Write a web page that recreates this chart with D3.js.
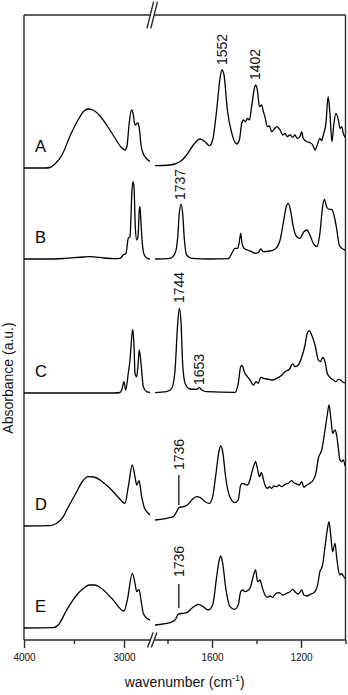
<!DOCTYPE html>
<html>
<head>
<meta charset="utf-8">
<script src="https://cdn.jsdelivr.net/npm/d3@7"></script>
<style>
  body { margin: 0; background: #fff; }
  svg { display: block; font-family: Arial, "Liberation Sans", sans-serif; }
</style>
</head>
<body>
<div id="container"></div>
<script>
/* CONSTANTS AND GLOBALS */
const width = 348,
  height = 695,
  margin = { top: 15, bottom: 55, left: 24, right: 2.5 };

// the wavenumber axis is broken between these two pieces
const leftDomain = [4000, 2730];
const rightDomain = [1860, 1000];

/* DATA */
// [wavenumber (cm-1), absorbance (a.u.)]
const specA = [
  [4000, 0], [3790, 0], [3740, 0.005], [3690, 0.04], [3620, 0.13], [3540, 0.32], [3460, 0.48],
  [3400, 0.57], [3360, 0.59], [3310, 0.58], [3240, 0.52], [3160, 0.41], [3090, 0.30], [3030, 0.21],
  [2990, 0.18], [2970, 0.22], [2950, 0.43], [2925, 0.58], [2910, 0.55], [2890, 0.43], [2875, 0.44],
  [2860, 0.45], [2845, 0.38], [2830, 0.23], [2810, 0.15], [2780, 0.10], [2740, 0.065],
  [1856, 0.023], [1789, 0.03], [1744, 0.063], [1714, 0.13], [1684, 0.23], [1654, 0.29], [1631, 0.263],
  [1612, 0.223], [1597, 0.28], [1579, 0.58], [1564, 0.897], [1555, 0.98], [1546, 0.93], [1531, 0.58],
  [1511, 0.347], [1489, 0.24], [1477, 0.28], [1467, 0.44], [1459, 0.48], [1449, 0.463], [1441, 0.497],
  [1432, 0.48], [1422, 0.613], [1411, 0.78], [1404, 0.83], [1395, 0.763], [1387, 0.613], [1377, 0.63],
  [1369, 0.563], [1362, 0.513], [1351, 0.413], [1342, 0.42], [1332, 0.363], [1321, 0.387], [1309, 0.413],
  [1294, 0.38], [1282, 0.33], [1272, 0.347], [1262, 0.313], [1249, 0.33], [1237, 0.307], [1227, 0.33],
  [1217, 0.297], [1205, 0.313], [1197, 0.363], [1190, 0.297], [1174, 0.263], [1160, 0.253], [1147, 0.23],
  [1137, 0.18], [1127, 0.23], [1115, 0.297], [1107, 0.273], [1100, 0.33], [1088, 0.447], [1078, 0.713],
  [1070, 0.547], [1061, 0.263], [1052, 0.447], [1043, 0.547], [1032, 0.48], [1025, 0.397], [1017, 0.413],
  [1010, 0.347], [1002, 0.307]
];

const specB = [
  [4000, 0], [3800, 0], [3600, 0.005], [3400, 0.02], [3340, 0.023], [3200, 0.01], [3100, 0.003],
  [3040, 0.007], [3007, 0.04], [2980, 0.057], [2957, 0.207], [2940, 0.223], [2920, 0.69], [2910, 0.773],
  [2900, 0.723], [2887, 0.323], [2873, 0.19], [2860, 0.223], [2847, 0.49], [2840, 0.523], [2830, 0.357],
  [2817, 0.157], [2797, 0.04], [2767, 0.007], [2740, 0],
  [1856, 0], [1789, 0.007], [1766, 0.057], [1754, 0.223], [1747, 0.457], [1739, 0.547], [1732, 0.457],
  [1724, 0.19], [1714, 0.04], [1691, 0.007], [1609, 0], [1527, 0.003], [1511, 0.057], [1497, 0.107],
  [1485, 0.107], [1477, 0.173], [1471, 0.257], [1465, 0.157], [1456, 0.107], [1441, 0.09], [1422, 0.073],
  [1407, 0.057], [1392, 0.063], [1381, 0.10], [1369, 0.073], [1339, 0.08], [1317, 0.097], [1294, 0.19],
  [1280, 0.357], [1264, 0.54], [1257, 0.557], [1246, 0.473], [1235, 0.323], [1219, 0.223], [1205, 0.207],
  [1187, 0.273], [1174, 0.29], [1160, 0.24], [1145, 0.157], [1129, 0.123], [1115, 0.257], [1103, 0.523],
  [1095, 0.597], [1085, 0.523], [1073, 0.497], [1062, 0.497], [1052, 0.44], [1040, 0.307], [1028, 0.14],
  [1017, 0.107], [1002, 0.09]
];

const specC = [
  [4000, 0], [3700, 0], [3400, 0], [3100, 0], [3040, 0.005], [3023, 0.03], [3000, 0.113], [2983, 0.03],
  [2957, 0.20], [2940, 0.33], [2925, 0.53], [2913, 0.637], [2900, 0.48], [2890, 0.197], [2873, 0.163],
  [2860, 0.28], [2847, 0.43], [2830, 0.297], [2807, 0.063], [2773, 0.013], [2740, 0.005],
  [1856, 0.003], [1804, 0.013], [1781, 0.047], [1766, 0.23], [1756, 0.63], [1747, 0.847], [1739, 0.697],
  [1732, 0.297], [1721, 0.097], [1699, 0.04], [1669, 0.037], [1657, 0.053], [1646, 0.03], [1624, 0.013],
  [1497, 0.007], [1482, 0.097], [1471, 0.263], [1464, 0.273], [1455, 0.213], [1441, 0.163], [1429, 0.13],
  [1414, 0.08], [1402, 0.113], [1392, 0.097], [1381, 0.157], [1369, 0.147], [1351, 0.14], [1332, 0.13],
  [1309, 0.147], [1291, 0.17], [1272, 0.213], [1253, 0.237], [1237, 0.29], [1227, 0.263], [1212, 0.28],
  [1197, 0.357], [1182, 0.48], [1172, 0.597], [1163, 0.623], [1152, 0.58], [1137, 0.48], [1122, 0.33],
  [1112, 0.313], [1103, 0.357], [1092, 0.313], [1082, 0.197], [1070, 0.157], [1055, 0.13], [1043, 0.113],
  [1032, 0.137], [1022, 0.13], [1010, 0.107], [1000, 0.103]
];

const specD = [
  [4000, 0], [3740, 0.003], [3673, 0.027], [3607, 0.093], [3573, 0.16], [3473, 0.343], [3420, 0.44],
  [3357, 0.493], [3300, 0.49], [3240, 0.46], [3190, 0.42], [3123, 0.36], [3060, 0.29], [2990, 0.227],
  [2957, 0.393], [2917, 0.61], [2890, 0.493], [2873, 0.41], [2850, 0.453], [2823, 0.293], [2800, 0.193],
  [2773, 0.143], [2740, 0.11],
  [1856, 0.06], [1774, 0.093], [1759, 0.143], [1747, 0.187], [1729, 0.193], [1711, 0.21], [1691, 0.26],
  [1669, 0.293], [1654, 0.287], [1631, 0.243], [1612, 0.227], [1597, 0.293], [1582, 0.527], [1569, 0.743],
  [1561, 0.80], [1552, 0.743], [1537, 0.46], [1519, 0.287], [1497, 0.233], [1482, 0.26], [1471, 0.41],
  [1462, 0.427], [1452, 0.417], [1441, 0.41], [1432, 0.443], [1422, 0.527], [1411, 0.61], [1404, 0.643],
  [1396, 0.577], [1387, 0.493], [1378, 0.533], [1369, 0.467], [1362, 0.41], [1351, 0.377], [1342, 0.393],
  [1332, 0.377], [1321, 0.40], [1309, 0.393], [1298, 0.41], [1287, 0.393], [1272, 0.417], [1257, 0.427],
  [1242, 0.453], [1232, 0.433], [1219, 0.42], [1208, 0.41], [1197, 0.443], [1187, 0.387], [1174, 0.41],
  [1160, 0.427], [1145, 0.46], [1133, 0.527], [1122, 0.677], [1107, 0.76], [1092, 0.96], [1082, 1.11],
  [1074, 1.21], [1065, 1.06], [1058, 0.927], [1047, 0.96], [1040, 0.91], [1032, 0.777], [1025, 0.66],
  [1017, 0.643], [1010, 0.66], [1002, 0.60]
];

const specE = [
  [4000, 0], [3710, 0.003], [3657, 0.03], [3573, 0.18], [3473, 0.33], [3400, 0.40], [3347, 0.43],
  [3290, 0.43], [3240, 0.407], [3123, 0.297], [3000, 0.17], [2967, 0.28], [2917, 0.547], [2890, 0.447],
  [2873, 0.363], [2850, 0.387], [2830, 0.28], [2807, 0.147], [2773, 0.097], [2740, 0.08],
  [1856, 0.03], [1789, 0.053], [1766, 0.08], [1751, 0.14], [1729, 0.147], [1714, 0.153], [1691, 0.197],
  [1662, 0.237], [1639, 0.213], [1617, 0.18], [1597, 0.23], [1579, 0.513], [1569, 0.663], [1561, 0.72],
  [1552, 0.647], [1537, 0.38], [1519, 0.213], [1500, 0.187], [1482, 0.23], [1471, 0.363], [1462, 0.38],
  [1452, 0.363], [1441, 0.373], [1429, 0.397], [1419, 0.48], [1411, 0.547], [1404, 0.58], [1395, 0.463],
  [1384, 0.48], [1375, 0.413], [1362, 0.33], [1351, 0.307], [1339, 0.32], [1327, 0.307], [1312, 0.347],
  [1298, 0.353], [1282, 0.33], [1264, 0.347], [1249, 0.363], [1237, 0.387], [1227, 0.363], [1212, 0.34],
  [1197, 0.38], [1187, 0.33], [1172, 0.32], [1156, 0.34], [1142, 0.353], [1127, 0.413], [1115, 0.563],
  [1103, 0.63], [1092, 0.813], [1082, 0.98], [1074, 1.063], [1065, 0.897], [1058, 0.763], [1047, 0.847],
  [1040, 0.713], [1032, 0.58], [1025, 0.53], [1017, 0.547], [1010, 0.52], [1002, 0.497]
];

const spectra = [specA, specB, specC, specD, specE];
const seriesNames = ["A", "B", "C", "D", "E"];
const offsets = [4.72, 3.81, 2.47, 1.14, 0.12];   // vertical stacking of the traces

// peak labels: which trace, where, height the text starts at, optional marker line
const peakLabels = [
  { series: 0, wn: 1555, at: 1.03, text: "1552" },
  { series: 0, wn: 1408, at: 0.88, text: "1402" },
  { series: 1, wn: 1744, at: 0.59, text: "1737" },
  { series: 2, wn: 1748, at: 0.90, text: "1744" },
  { series: 2, wn: 1657, at: 0.08, text: "1653" },
  { series: 3, wn: 1749, at: 0.56, text: "1736", stem: [0.21, 0.51] },
  { series: 4, wn: 1749, at: 0.51, text: "1736", stem: [0.20, 0.44] }
];

const majorTicksLeft = [4000, 3000], minorTicksLeft = [3500];
const majorTicksRight = [1600, 1200], minorTicksRight = [1800, 1400, 1000];

let svg, xLeft, xRight, yScale;

init();

function xPos(w) {
  return w >= leftDomain[1] ? xLeft(w) : xRight(w);
}

function init() {
  // SCALES
  xLeft = d3.scaleLinear().domain(leftDomain).range([margin.left, 151]);
  xRight = d3.scaleLinear().domain(rightDomain).range([154.15, width - margin.right]);
  yScale = d3.scaleLinear().domain([0, 6.25]).range([height - margin.bottom, margin.top]);

  svg = d3.select("#container")
    .append("svg")
    .attr("width", width)
    .attr("height", height);

  svg.append("rect").attr("width", width).attr("height", height).attr("fill", "#fff");

  drawFrame();
  drawAxes();
  draw();
}

function drawFrame() {
  const frameColor = "#2a2a2a";
  const yTop = yScale(6.25), yBot = yScale(0);
  const xL0 = xLeft(leftDomain[0]), xL1 = xLeft(leftDomain[1]);
  const xR0 = xRight(rightDomain[0]), xR1 = xRight(rightDomain[1]);

  const segs = [
    [xL0, yTop, xL0, yBot], [xR1, yTop, xR1, yBot],
    [xL0, yTop, xL1, yTop], [xR0, yTop, xR1, yTop],
    [xL0, yBot, xL1, yBot], [xR0, yBot, xR1, yBot]
  ];
  // the // marks at the break
  [xL1 - 0.7, xR0].forEach(xc => {
    segs.push([xc - 3.3, yTop + 13.3, xc + 3.3, yTop - 13.3]);
    segs.push([xc - 2.8, yBot + 7.5, xc + 2.8, yBot - 7.5]);
  });

  svg.append("g").selectAll("line")
    .data(segs)
    .join("line")
    .attr("x1", d => d[0]).attr("y1", d => d[1])
    .attr("x2", d => d[2]).attr("y2", d => d[3])
    .attr("stroke", frameColor)
    .attr("stroke-width", 1.4);
}

function drawAxes() {
  const y0 = yScale(0);
  const fmt = d3.format("d");

  const styleAxis = g => {
    g.select(".domain").remove();
    g.selectAll(".tick line").attr("stroke", "#2a2a2a").attr("stroke-width", 1.4);
    g.selectAll(".tick text").attr("fill", "#111");
  };

  [[xLeft, majorTicksLeft, minorTicksLeft], [xRight, majorTicksRight, minorTicksRight]]
    .forEach(([scale, major, minor]) => {
      svg.append("g")
        .attr("transform", `translate(0, ${y0})`)
        .attr("font-size", 14).attr("font-family", null)
        .call(d3.axisBottom(scale).tickValues(major).tickSize(8).tickPadding(6).tickFormat(fmt))
        .call(styleAxis);
      svg.append("g")
        .attr("transform", `translate(0, ${y0})`)
        .call(d3.axisBottom(scale).tickValues(minor).tickSize(4).tickFormat(""))
        .call(styleAxis);
    });

  // AXIS TITLES
  const xTitle = svg.append("text")
    .attr("x", (xLeft(leftDomain[0]) + xRight(rightDomain[1])) / 2)
    .attr("y", 687)
    .attr("text-anchor", "middle")
    .attr("font-size", 14)
    .attr("fill", "#111");
  xTitle.append("tspan").text("wavenumber (cm");
  xTitle.append("tspan").text("-1").attr("font-size", 9).attr("dy", -6);
  xTitle.append("tspan").text(")").attr("dy", 6);

  svg.append("text")
    .attr("transform", "translate(12.5, 378) rotate(-90)")
    .attr("text-anchor", "middle")
    .attr("font-size", 14)
    .attr("fill", "#111")
    .text("Absorbance (a.u.)");
}

function draw() {
  const lineFunction = d3.line()
    .x(d => xPos(d[0]))
    .y(d => yScale(d[1]))
    .curve(d3.curveMonotoneX);

  // each trace is split into the two pieces either side of the break
  const pieces = [];
  spectra.forEach((spec, i) => {
    const shifted = spec.map(d => [d[0], d[1] + offsets[i]]);
    pieces.push(shifted.filter(d => d[0] >= leftDomain[1]));
    pieces.push(shifted.filter(d => d[0] <= rightDomain[0]));
  });

  svg.selectAll("path.line")
    .data(pieces)
    .join("path")
    .attr("class", "line")
    .attr("fill", "none")
    .attr("stroke", "#000")
    .attr("stroke-width", 1.3)
    .attr("stroke-linejoin", "round")
    .attr("d", d => lineFunction(d));

  // series letters
  svg.selectAll("text.series")
    .data(seriesNames)
    .join("text")
    .attr("class", "series")
    .attr("x", xLeft(3890))
    .attr("y", (d, i) => yScale(offsets[i] + 0.16))
    .attr("font-size", 16.5)
    .attr("fill", "#000")
    .text(d => d);

  // peak labels
  svg.selectAll("text.peak")
    .data(peakLabels)
    .join("text")
    .attr("class", "peak")
    .attr("transform", d => `translate(${xPos(d.wn)}, ${yScale(offsets[d.series] + d.at)}) rotate(-90)`)
    .attr("dominant-baseline", "central")
    .attr("font-size", 14)
    .attr("fill", "#111")
    .text(d => d.text);

  svg.selectAll("line.stem")
    .data(peakLabels.filter(d => d.stem))
    .join("line")
    .attr("class", "stem")
    .attr("x1", d => xPos(d.wn)).attr("x2", d => xPos(d.wn))
    .attr("y1", d => yScale(offsets[d.series] + d.stem[0]))
    .attr("y2", d => yScale(offsets[d.series] + d.stem[1]))
    .attr("stroke", "#000")
    .attr("stroke-width", 1.2);
}
</script>
</body>
</html>
